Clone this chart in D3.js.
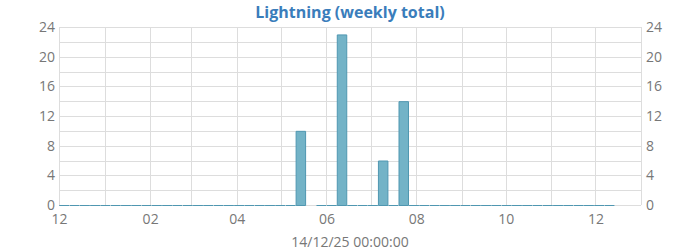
<!DOCTYPE html>
<html>
<head>
<meta charset="utf-8">
<script src="https://cdn.jsdelivr.net/npm/d3@7"></script>
<style>
html,body{margin:0;padding:0;background:#fff;}
svg{display:block;font-family:"Open Sans",sans-serif;}
</style>
</head>
<body>
<svg id="chart" width="700" height="250"></svg>
<script>
const title = "Lightning (weekly total)";
const xTitle = "14/12/25 00:00:00";
const firstWeek = "2024-12-01";
const domainStart = "2024-12-01";
const domainEnd = "2026-01-01";
// weekly totals, one per week starting firstWeek (Sundays)
const values = [
  0,0,0,0,0,0,0,0,0,0,0,0,0,0,0,0,0,0,0,0,0,0,0,
  10, null, 0, 0, 23, 0, 0, 0, 6, 0, 14,
  0,0,0,0,0,0,0,0,0,0,0,0,0,0,0,0,0,0,0,0
];
const xTickDates = ["2024-12-01","2025-02-01","2025-04-01","2025-06-01","2025-08-01","2025-10-01","2025-12-01"];
const yTicks = [0,4,8,12,16,20,24];
const yGrid = d3.range(0, 25, 2);

const parse = d3.utcParse("%Y-%m-%d");
const weeks = d3.utcWeek.range(parse(firstWeek), d3.utcWeek.offset(parse(firstWeek), values.length));
const data = weeks.map((d,i)=>({date:d, value:values[i]}));

const svg = d3.select("#chart");
const L = 59, R = 641, T = 27, B = 205;

const x = d3.scaleUtc().domain([parse(domainStart), parse(domainEnd)]).range([L, R]);
const y = d3.scaleLinear().domain([0, 24]).range([B, T]);

const gridColor = "#dddddd";
const textColor = "#777777";

// horizontal grid
svg.append("g").selectAll("line").data(yGrid).join("line")
  .attr("x1", L).attr("x2", R)
  .attr("y1", d=>Math.round(y(d))+0.5).attr("y2", d=>Math.round(y(d))+0.5)
  .attr("stroke", gridColor).attr("stroke-width", 1);

// vertical grid (monthly)
const months = d3.utcMonth.range(parse(domainStart), d3.utcDay.offset(parse(domainEnd),1));
svg.append("g").selectAll("line").data(months).join("line")
  .attr("x1", d=>Math.round(x(d))+0.5).attr("x2", d=>Math.round(x(d))+0.5)
  .attr("y1", T).attr("y2", B)
  .attr("stroke", gridColor).attr("stroke-width", 1);

// bars
const barFill = "#73b3c7";
const barStroke = "#4f97b1";
svg.append("g").selectAll("path").data(data.filter(d=>d.value!==null)).join("path")
  .attr("d", d=>{
    const x0 = x(d.date)+0.5;
    const x1 = x(d3.utcDay.offset(d.date,7))-0.3;
    const y0 = y(0)+0.5, y1 = y(d.value)+0.5;
    return `M${x0},${y0}V${y1}H${x1}V${y0}Z`;
  })
  .attr("fill", barFill).attr("stroke", barStroke).attr("stroke-width", 1);

// left y axis labels
const yl = d3.axisLeft(y).tickValues(yTicks).tickSize(0).tickPadding(4);
const gl = svg.append("g").attr("transform", `translate(${L},0)`).call(yl);
const yr = d3.axisRight(y).tickValues(yTicks).tickSize(0).tickPadding(5);
const gr = svg.append("g").attr("transform", `translate(${R},0)`).call(yr);

// x axis labels
const xa = d3.axisBottom(x).tickValues(xTickDates.map(parse)).tickFormat(d3.utcFormat("%m")).tickSize(0).tickPadding(9);
const gx = svg.append("g").attr("transform", `translate(0,${B})`).call(xa);

[gl, gr, gx].forEach(g=>{
  g.select(".domain").remove();
  g.selectAll("text").attr("fill", textColor).attr("font-size", 14)
    .attr("font-family", "'Open Sans',sans-serif");
});

svg.append("text").attr("x", 350).attr("y", 17.5).attr("text-anchor", "middle")
  .attr("font-size", 16).attr("font-weight", "bold").attr("fill", "#3a7dbb").text(title);

svg.append("text").attr("x", 350).attr("y", 247).attr("text-anchor", "middle")
  .attr("font-size", 14).attr("fill", textColor).text(xTitle);
</script>
</body>
</html>
